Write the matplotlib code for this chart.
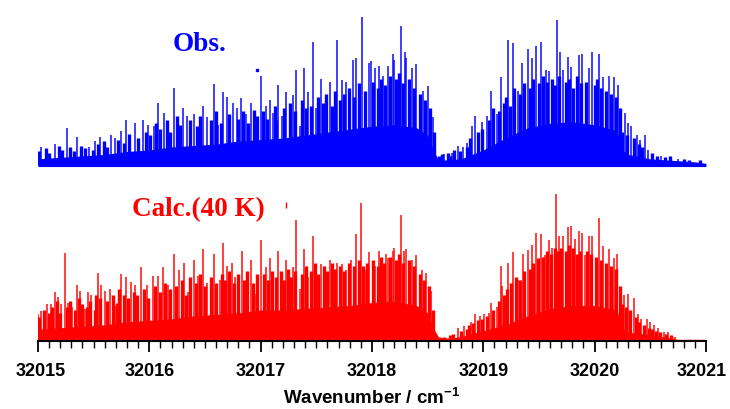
import matplotlib
matplotlib.use('Agg')
from matplotlib import pyplot as plt
from matplotlib.transforms import ScaledTranslation

plt.rcParams['mathtext.fontset'] = 'custom'
plt.rcParams['mathtext.bf'] = 'Liberation Sans:bold'

# dense band level (top of the solid filled part), read every ~0.1 cm-1
obs_body_x = [32015.0, 32015.2, 32015.4, 32015.6, 32015.8, 32016.0, 32016.2, 32016.4, 32016.6, 32016.8,
              32017.0, 32017.2, 32017.4, 32017.6, 32017.8, 32018.0, 32018.2, 32018.4, 32018.5, 32018.55,
              32018.6, 32018.8, 32019.0, 32019.2, 32019.4, 32019.6, 32019.8, 32020.0, 32020.2, 32020.25,
              32020.3, 32020.5, 32020.7, 32020.9, 32021.0]
obs_body_y = [0.04, 0.05, 0.06, 0.07, 0.09, 0.10, 0.12, 0.13, 0.14, 0.16,
              0.17, 0.18, 0.20, 0.22, 0.24, 0.26, 0.27, 0.25, 0.20, 0.10,
              0.03, 0.04, 0.10, 0.18, 0.25, 0.28, 0.29, 0.27, 0.23, 0.10,
              0.07, 0.04, 0.03, 0.02, 0.01]

calc_body_x = [32015.0, 32015.2, 32015.4, 32015.6, 32015.8, 32016.0, 32016.2, 32016.4, 32016.6, 32016.8,
               32017.0, 32017.2, 32017.4, 32017.6, 32017.8, 32018.0, 32018.2, 32018.4, 32018.5, 32018.55,
               32018.6, 32018.7, 32018.8, 32018.9, 32019.0, 32019.2, 32019.4, 32019.6, 32019.8, 32020.0,
               32020.2, 32020.25, 32020.3, 32020.5, 32020.6, 32020.7, 32020.75]
calc_body_y = [0.07, 0.08, 0.09, 0.10, 0.12, 0.13, 0.14, 0.16, 0.17, 0.18,
               0.20, 0.20, 0.21, 0.22, 0.23, 0.25, 0.26, 0.23, 0.18, 0.08,
               0.015, 0.01, 0.02, 0.04, 0.06, 0.10, 0.16, 0.21, 0.23, 0.23,
               0.20, 0.08, 0.05, 0.035, 0.02, 0.01, 0.0]

# prominent lines: position (cm-1) and height (relative)
obs_pos = [32015.03, 32015.15, 32015.26, 32015.35, 32015.46, 32015.51, 32015.56, 32015.66, 32015.69, 32015.75,
           32015.79, 32015.87, 32015.94, 32015.985, 32016.04, 32016.075, 32016.13, 32016.22, 32016.305, 32016.335,
           32016.40, 32016.485, 32016.52, 32016.58, 32016.62, 32016.665, 32016.695, 32016.755, 32016.785, 32016.82,
           32016.87, 32016.91, 32017.00, 32017.05, 32017.08, 32017.11, 32017.16, 32017.19, 32017.23, 32017.29,
           32017.32, 32017.35, 32017.39, 32017.43, 32017.47, 32017.50, 32017.54, 32017.62, 32017.69, 32017.73,
           32017.765, 32017.83, 32017.86, 32017.91, 32017.97, 32017.99, 32018.03, 32018.06, 32018.10, 32018.14,
           32018.185, 32018.20, 32018.26, 32018.30, 32018.31, 32018.36, 32018.40, 32018.46, 32018.505, 32018.545,
           32018.65, 32018.72, 32018.775, 32018.82, 32018.855, 32018.90, 32018.93, 32018.985, 32019.03, 32019.07,
           32019.12, 32019.16, 32019.225, 32019.265, 32019.31, 32019.35, 32019.40, 32019.435, 32019.47, 32019.52,
           32019.56, 32019.59, 32019.66, 32019.69, 32019.72, 32019.765, 32019.79, 32019.86, 32019.89, 32019.95,
           32019.98, 32020.04, 32020.08, 32020.13, 32020.17, 32020.21, 32020.27, 32020.30, 32020.33, 32020.38,
           32020.41, 32020.45, 32020.48, 32020.6, 32020.75]
obs_h = [0.12, 0.14, 0.25, 0.19, 0.12, 0.16, 0.19, 0.20, 0.18, 0.23,
         0.30, 0.28, 0.30, 0.27, 0.26, 0.42, 0.35, 0.52, 0.38, 0.33,
         0.34, 0.40, 0.32, 0.545, 0.27, 0.49, 0.46, 0.42, 0.38, 0.45,
         0.34, 0.42, 0.60, 0.40, 0.44, 0.35, 0.54, 0.33, 0.49, 0.47,
         0.64, 0.26, 0.65, 0.49, 0.83, 0.38, 0.58, 0.56, 0.84, 0.57,
         0.56, 0.71, 0.72, 1.00, 0.69, 0.70, 0.65, 0.67, 0.60, 0.67,
         0.75, 0.71, 0.94, 0.76, 0.72, 0.65, 0.68, 0.50, 0.53, 0.32,
         0.07, 0.08, 0.13, 0.12, 0.15, 0.26, 0.33, 0.29, 0.33, 0.50,
         0.34, 0.59, 0.845, 0.82, 0.50, 0.69, 0.78, 0.72, 0.80, 0.83,
         0.64, 0.63, 0.98, 0.76, 0.64, 0.73, 0.66, 0.74, 0.75, 0.65,
         0.76, 0.75, 0.59, 0.60, 0.59, 0.54, 0.35, 0.28, 0.26, 0.20,
         0.17, 0.20, 0.10, 0.06, 0.04]

# medium lines filling the dense band
obs_mid_pos = [32015.01, 32015.07, 32015.10, 32015.19, 32015.22, 32015.29, 32015.32, 32015.39, 32015.42, 32015.49,
               32015.54, 32015.59, 32015.62, 32015.72, 32015.77, 32015.82, 32015.90, 32015.97,
               32016.01, 32016.06, 32016.10, 32016.16, 32016.19, 32016.25, 32016.28, 32016.37, 32016.43, 32016.46,
               32016.55, 32016.60, 32016.64, 32016.72, 32016.80, 32016.84, 32016.89, 32016.94, 32016.97,
               32017.02, 32017.06, 32017.13, 32017.14, 32017.21, 32017.26, 32017.31, 32017.37, 32017.41, 32017.45,
               32017.52, 32017.56, 32017.59, 32017.64, 32017.67, 32017.71, 32017.75, 32017.79, 32017.84, 32017.88,
               32017.94, 32018.01, 32018.05, 32018.08, 32018.12, 32018.16, 32018.22, 32018.24, 32018.28, 32018.33,
               32018.38, 32018.43, 32018.48, 32018.52, 32018.56,
               32018.60, 32018.63, 32018.68, 32018.70, 32018.74, 32018.79, 32018.85, 32018.88, 32018.95, 32018.99,
               32019.05, 32019.09, 32019.14, 32019.19, 32019.20, 32019.24, 32019.28, 32019.33, 32019.37, 32019.42,
               32019.45, 32019.50, 32019.54, 32019.57, 32019.62, 32019.64, 32019.68, 32019.74, 32019.77, 32019.81,
               32019.84, 32019.88, 32019.92, 32020.00, 32020.02, 32020.06, 32020.10, 32020.15, 32020.19, 32020.23,
               32020.25, 32020.29, 32020.35, 32020.40, 32020.43, 32020.52, 32020.56, 32020.63, 32020.68, 32020.80,
               32020.85, 32020.95]
obs_mid_h = [0.09, 0.11, 0.08, 0.13, 0.10, 0.12, 0.09, 0.13, 0.11, 0.10,
             0.14, 0.16, 0.12, 0.17, 0.15, 0.21, 0.18, 0.22,
             0.20, 0.28, 0.24, 0.30, 0.22, 0.33, 0.27, 0.30, 0.26, 0.33,
             0.30, 0.36, 0.28, 0.34, 0.31, 0.36, 0.28, 0.37, 0.33,
             0.36, 0.31, 0.40, 0.30, 0.38, 0.42, 0.36, 0.44, 0.38, 0.40,
             0.46, 0.42, 0.48, 0.40, 0.50, 0.44, 0.48, 0.52, 0.46, 0.55,
             0.50, 0.56, 0.52, 0.58, 0.54, 0.60, 0.58, 0.62, 0.55, 0.58,
             0.52, 0.48, 0.44, 0.38, 0.22,
             0.06, 0.07, 0.08, 0.06, 0.10, 0.09, 0.12, 0.18, 0.22, 0.24,
             0.30, 0.38, 0.36, 0.42, 0.46, 0.40, 0.52, 0.48, 0.55, 0.52,
             0.58, 0.55, 0.60, 0.56, 0.58, 0.54, 0.60, 0.56, 0.58, 0.52,
             0.60, 0.55, 0.56, 0.54, 0.58, 0.52, 0.50, 0.48, 0.46, 0.38,
             0.22, 0.20, 0.18, 0.14, 0.12, 0.08, 0.06, 0.05, 0.06, 0.04,
             0.03, 0.03]

calc_pos = [32015.00, 32015.03, 32015.08, 32015.12, 32015.15, 32015.18, 32015.21, 32015.24, 32015.27, 32015.31,
            32015.35, 32015.38, 32015.42, 32015.45, 32015.48, 32015.54, 32015.57, 32015.60, 32015.65, 32015.69,
            32015.745, 32015.79, 32015.84, 32015.87, 32015.93, 32015.975, 32016.03, 32016.075, 32016.12, 32016.17,
            32016.22, 32016.27, 32016.31, 32016.35, 32016.40, 32016.44, 32016.485, 32016.52, 32016.58, 32016.635,
            32016.665, 32016.695, 32016.74, 32016.77, 32016.83, 32016.86, 32016.91, 32016.955, 32017.00, 32017.05,
            32017.08, 32017.11, 32017.16, 32017.19, 32017.23, 32017.29, 32017.32, 32017.35, 32017.39, 32017.43,
            32017.47, 32017.50, 32017.54, 32017.62, 32017.69, 32017.73, 32017.77, 32017.81, 32017.86, 32017.905,
            32017.935, 32017.975, 32018.03, 32018.06, 32018.09, 32018.13, 32018.145, 32018.185, 32018.20, 32018.26,
            32018.29, 32018.31, 32018.36, 32018.40, 32018.45, 32018.49, 32018.535, 32018.775, 32018.83, 32018.89,
            32018.925, 32018.97, 32019.01, 32019.05, 32019.07, 32019.12, 32019.155, 32019.17, 32019.225, 32019.27,
            32019.315, 32019.355, 32019.40, 32019.435, 32019.47, 32019.52, 32019.555, 32019.59, 32019.62, 32019.655,
            32019.68, 32019.72, 32019.765, 32019.79, 32019.82, 32019.86, 32019.89, 32019.91, 32019.95, 32019.98,
            32020.04, 32020.08, 32020.13, 32020.17, 32020.20, 32020.26, 32020.30, 32020.35, 32020.39, 32020.42,
            32020.47, 32020.50, 32020.535, 32020.57, 32020.62, 32020.66, 32020.72]
calc_h = [0.17, 0.19, 0.24, 0.24, 0.32, 0.29, 0.24, 0.585, 0.25, 0.22,
          0.37, 0.33, 0.21, 0.32, 0.30, 0.45, 0.37, 0.33, 0.34, 0.23,
          0.44, 0.42, 0.39, 0.37, 0.49, 0.37, 0.43, 0.43, 0.49, 0.37,
          0.58, 0.47, 0.52, 0.32, 0.54, 0.43, 0.61, 0.38, 0.575, 0.40,
          0.65, 0.50, 0.52, 0.42, 0.60, 0.37, 0.535, 0.31, 0.67, 0.49,
          0.55, 0.34, 0.595, 0.30, 0.54, 0.49, 0.81, 0.34, 0.61, 0.42,
          0.70, 0.38, 0.51, 0.535, 0.52, 0.51, 0.47, 0.54, 0.71, 0.92,
          0.47, 0.59, 0.50, 0.60, 0.54, 0.575, 0.55, 0.595, 0.62, 0.84,
          0.595, 0.61, 0.54, 0.57, 0.47, 0.45, 0.33, 0.08, 0.09, 0.12,
          0.17, 0.16, 0.17, 0.18, 0.25, 0.22, 0.50, 0.36, 0.52, 0.59,
          0.40, 0.58, 0.605, 0.64, 0.72, 0.715, 0.57, 0.67, 0.62, 0.985,
          0.70, 0.70, 0.76, 0.77, 0.68, 0.73, 0.72, 0.57, 0.70, 0.70,
          0.82, 0.63, 0.61, 0.55, 0.58, 0.30, 0.31, 0.28, 0.17, 0.14,
          0.14, 0.12, 0.10, 0.08, 0.05, 0.05, 0.02]

calc_mid_pos = [32015.01, 32015.05, 32015.10, 32015.13, 32015.17, 32015.20, 32015.26, 32015.29, 32015.33, 32015.37,
                32015.40, 32015.44, 32015.47, 32015.51, 32015.52, 32015.56, 32015.62, 32015.67, 32015.71, 32015.73,
                32015.77, 32015.81, 32015.86, 32015.89, 32015.95, 32015.99,
                32016.05, 32016.10, 32016.14, 32016.19, 32016.24, 32016.29, 32016.33, 32016.37, 32016.42, 32016.46,
                32016.50, 32016.55, 32016.60, 32016.65, 32016.68, 32016.72, 32016.76, 32016.80, 32016.85, 32016.88,
                32016.93, 32016.97,
                32017.03, 32017.07, 32017.10, 32017.14, 32017.18, 32017.21, 32017.25, 32017.27, 32017.31, 32017.37,
                32017.41, 32017.45, 32017.49, 32017.52, 32017.57, 32017.60, 32017.64, 32017.67, 32017.71, 32017.75,
                32017.79, 32017.84, 32017.88, 32017.92, 32017.96,
                32018.01, 32018.05, 32018.08, 32018.11, 32018.16, 32018.22, 32018.24, 32018.28, 32018.33, 32018.38,
                32018.43, 32018.47, 32018.51, 32018.55,
                32018.60, 32018.65, 32018.70, 32018.73, 32018.80, 32018.85, 32018.87, 32018.91, 32018.95, 32018.99,
                32019.03, 32019.09, 32019.14, 32019.19, 32019.21, 32019.25, 32019.29, 32019.33, 32019.37, 32019.42,
                32019.45, 32019.49, 32019.54, 32019.57, 32019.61, 32019.64, 32019.67, 32019.70, 32019.74, 32019.77,
                32019.81, 32019.84, 32019.87, 32019.93, 32019.97,
                32020.01, 32020.06, 32020.10, 32020.15, 32020.19, 32020.23, 32020.25, 32020.28, 32020.32, 32020.37,
                32020.40, 32020.44, 32020.49, 32020.52, 32020.55, 32020.59, 32020.64, 32020.69]
calc_mid_h = [0.15, 0.20, 0.18, 0.22, 0.26, 0.18, 0.22, 0.26, 0.20, 0.28,
              0.24, 0.22, 0.26, 0.20, 0.30, 0.28, 0.26, 0.30, 0.25, 0.34,
              0.30, 0.28, 0.32, 0.30, 0.34, 0.28,
              0.36, 0.32, 0.38, 0.34, 0.36, 0.40, 0.30, 0.42, 0.38, 0.44,
              0.36, 0.42, 0.38, 0.44, 0.40, 0.46, 0.38, 0.44, 0.40, 0.46,
              0.38, 0.44,
              0.44, 0.40, 0.46, 0.42, 0.46, 0.40, 0.48, 0.42, 0.46, 0.44,
              0.50, 0.46, 0.52, 0.44, 0.50, 0.46, 0.52, 0.48, 0.50, 0.46,
              0.52, 0.50, 0.54, 0.50, 0.52,
              0.54, 0.50, 0.56, 0.52, 0.56, 0.54, 0.58, 0.52, 0.54, 0.50,
              0.44, 0.40, 0.36, 0.20,
              0.02, 0.02, 0.03, 0.04, 0.06, 0.07, 0.10, 0.11, 0.13, 0.14,
              0.16, 0.20, 0.26, 0.30, 0.34, 0.38, 0.42, 0.40, 0.46, 0.48,
              0.52, 0.55, 0.56, 0.60, 0.58, 0.62, 0.60, 0.62, 0.60, 0.64,
              0.62, 0.58, 0.60, 0.60, 0.58,
              0.56, 0.54, 0.52, 0.50, 0.48, 0.36, 0.24, 0.22, 0.20, 0.15,
              0.12, 0.10, 0.08, 0.07, 0.06, 0.05, 0.04, 0.03]

# stray marks visible on the original figure
stray_x = [32016.97, 32017.23]
stray_y = [1.83, 0.92]

tick_vals = [32015, 32016, 32017, 32018, 32019, 32020, 32021]

obs_offset = 1.19
calc_offset = 0.01
blue = '#0000ff'
red = '#ff0000'

fig = plt.figure(figsize=(7.3, 4.09), dpi=100)
ax = fig.add_axes([0.052, 0.166, 0.915, 0.81])

# Obs. (blue)
ax.fill_between(obs_body_x, obs_offset - 0.012, [obs_offset + v for v in obs_body_y], color=blue, lw=0)
ax.vlines(obs_mid_pos, obs_offset, [obs_offset + v for v in obs_mid_h], color=blue, lw=2.4)
ax.vlines(obs_pos, obs_offset, [obs_offset + v for v in obs_h], color=blue, lw=1.4, alpha=0.75)

# Calc. (red)
ax.fill_between(calc_body_x, calc_offset, [calc_offset + v for v in calc_body_y], color=red, lw=0)
ax.vlines(calc_mid_pos, calc_offset, [calc_offset + v for v in calc_mid_h], color=red, lw=2.4)
ax.vlines(calc_pos, calc_offset, [calc_offset + v for v in calc_h], color=red, lw=1.4, alpha=0.75)
ax.plot([calc_body_x[-1], 32021], [calc_offset, calc_offset], color=red, lw=1.0)

ax.plot(stray_x[:1], stray_y[:1], 's', color=blue, ms=1.5)
ax.plot(stray_x[1:], stray_y[1:], '|', color=red, ms=5, mew=1)

ax.text(32016.45, 2.0, 'Obs.', color=blue, fontsize=19.5, fontweight='bold',
        family='Liberation Serif', ha='center', va='center')
ax.text(32016.44, 0.89, 'Calc.(40 K)', color=red, fontsize=19.5, fontweight='bold',
        family='Liberation Serif', ha='center', va='center')

ax.set_xlim(32015, 32021)
ax.set_ylim(0, 2.236)
for s in ['top', 'left', 'right']:
    ax.spines[s].set_visible(False)
ax.spines['bottom'].set_linewidth(1.5)
ax.set_yticks([])
ax.set_xticks(tick_vals)
ax.set_xticks([32015 + i * 0.1 for i in range(61)], minor=True)
ax.tick_params(axis='x', which='major', length=8, width=1.3, direction='out', pad=8)
ax.tick_params(axis='x', which='minor', length=5, width=1.0, direction='out')
ax.set_xticklabels([str(v) for v in tick_vals], fontsize=13, fontweight='bold', family='Liberation Sans')
# keep the outermost labels inside the canvas
labels = ax.get_xticklabels()
labels[0].set_transform(labels[0].get_transform() + ScaledTranslation(3 / 100, 0, fig.dpi_scale_trans))
labels[-1].set_transform(labels[-1].get_transform() + ScaledTranslation(-4 / 100, 0, fig.dpi_scale_trans))
ax.set_xlabel(r'Wavenumber / cm$^{\mathbf{-1}}$', fontsize=13.5, fontweight='bold', family='Liberation Sans', labelpad=5)

fig.savefig('out.png', dpi=100)
